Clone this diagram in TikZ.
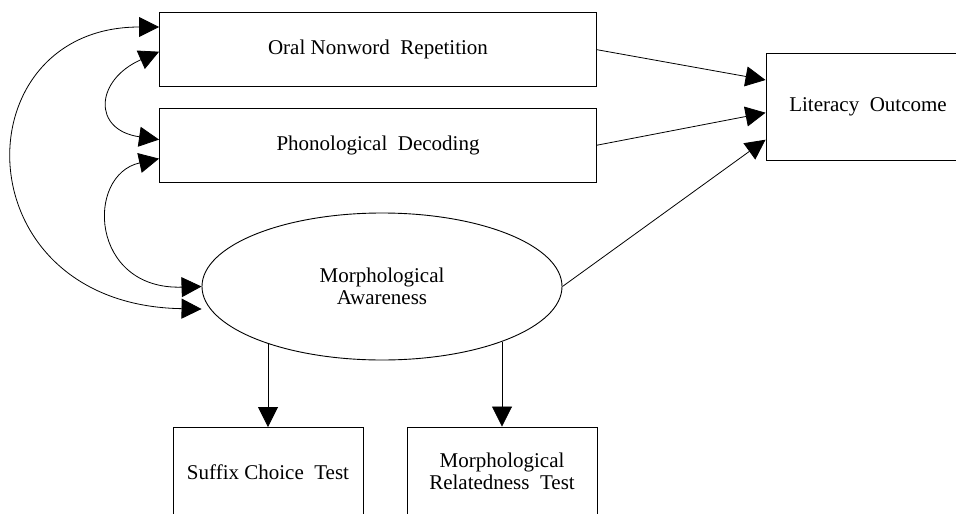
\documentclass[tikz,border=0pt]{standalone}
\usepackage{fontspec}
\setmainfont{Liberation Serif}
\usepackage{tikz}
\usetikzlibrary{arrows.meta,positioning,shapes.geometric}

\begin{document}
\begin{tikzpicture}[
x=1pt, y=-1pt,
box/.style={draw, line width=0.9pt, align=center, inner sep=0pt, font=\fontsize{21}{22}\selectfont, minimum width=437pt, minimum height=74pt},
testbox/.style={draw, line width=0.9pt, align=center, inner sep=0pt, font=\fontsize{21}{22}\selectfont, minimum width=190pt, minimum height=89pt},
latent/.style={draw, ellipse, line width=0.9pt, align=center, inner sep=0pt, font=\fontsize{21}{22}\selectfont, minimum width=360pt, minimum height=147pt},
arr/.style={-{Triangle[length=20pt, width=20pt]}, line width=0.8pt},
cov/.style={{Triangle[length=20pt, width=20pt]}-{Triangle[length=20pt, width=20pt]}, line width=0.8pt}
]
\clip (0,0) rectangle (956,514);
\node[box] (oral) at (378,49.7) {Oral Nonword\enspace Repetition};
\node[box, below=20.6pt of oral] (phon) {Phonological\enspace Decoding};
\node[latent] (morph) at (382,286.5) {Morphological\\ Awareness};
\node[box, minimum width=204pt, minimum height=107pt] (lit) at (868,106.7) {Literacy\enspace Outcome};
\node[testbox] (suffix) at (268,472) {Suffix Choice\enspace Test};
\node[testbox] (relat) at (502,471.5) {Morphological\\ Relatedness\enspace Test};
\draw[arr] (oral.east) -- ([yshift=26.7pt]lit.west);
\draw[arr] (phon.east) -- ([yshift=-6pt]lit.west);
\draw[arr] (morph.east) -- ([yshift=-33pt]lit.west);
\draw[arr] (suffix.north |- morph.207) -- (suffix.north);
\draw[arr] (relat.north |- morph.335) -- (relat.north);
\draw[cov] ([yshift=22.7pt]oral.west) .. controls (-40,27) and (-40,305) .. ([yshift=-22.5pt]morph.west);
\draw[cov] ([yshift=-2pt]oral.west) .. controls (95,80) and (92,130) .. ([yshift=5.6pt]phon.west);
\draw[cov] ([yshift=-13.4pt]phon.west) .. controls (85,175) and (90,290) .. (morph.west);
\end{tikzpicture}
\end{document}
